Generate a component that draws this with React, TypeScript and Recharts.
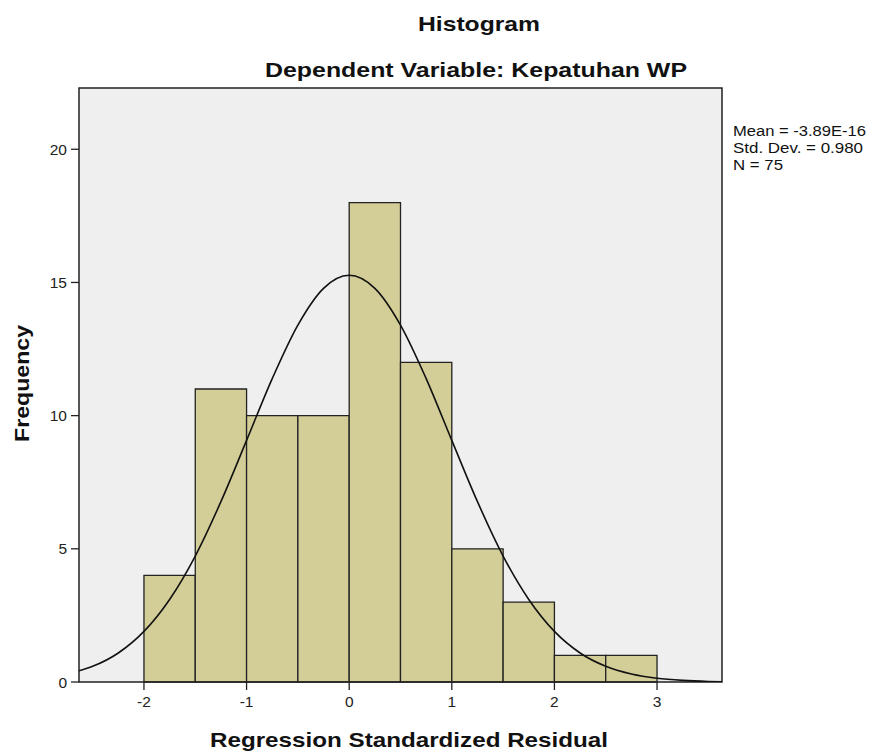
import React from "react";
import { ComposedChart, XAxis, YAxis, Line, ReferenceArea } from "recharts";

const binStarts = [-2, -1.5, -1, -0.5, 0, 0.5, 1, 1.5, 2, 2.5];
const binEnds = [-1.5, -1, -0.5, 0, 0.5, 1, 1.5, 2, 2.5, 3];
const counts = [4, 11, 10, 10, 18, 12, 5, 3, 1, 1];

const curveX = [-2.633, -2.5, -2.25, -2, -1.75, -1.5, -1.25, -1, -0.75, -0.5, -0.25, 0, 0.25, 0.5, 0.75, 1, 1.25, 1.5, 1.75, 2, 2.25, 2.5, 2.75, 3, 3.25, 3.5, 3.633];
const curveY = [0.42, 0.59, 1.09, 1.9, 3.1, 4.73, 6.77, 9.07, 11.39, 13.4, 14.78, 15.27, 14.78, 13.4, 11.39, 9.07, 6.77, 4.73, 3.1, 1.9, 1.09, 0.59, 0.3, 0.14, 0.06, 0.02, 0.01];

const xTicks = [-2, -1, 0, 1, 2, 3];
const yTicks = [0, 5, 10, 15, 20];
const xDomain = [-2.633, 3.633];
const yDomain = [0, 22.3];

const title = "Histogram";
const subtitle = "Dependent Variable: Kepatuhan WP";
const xLabel = "Regression Standardized Residual";
const yLabel = "Frequency";
const statsLines = ["Mean = -3.89E-16", "Std. Dev. = 0.980", "N = 75"];
const statsWidths = [133, 130, 50];

const curveData = curveX.map((x, i) => ({ x, y: curveY[i] }));
const bins = binStarts.map((s, i) => ({ s, e: binEnds[i], c: counts[i] }));

const FONT = "'Liberation Sans', Arial, sans-serif";
const INK = "#222";

export default function App() {
  return (
    <div style={{ position: "absolute", left: 0, top: 0, width: 871, height: 756, background: "#fff" }}>
      <ComposedChart width={871} height={756} data={curveData} margin={{ top: 88, right: 149, bottom: 44, left: 19 }}>
        <XAxis
          dataKey="x"
          type="number"
          domain={xDomain}
          ticks={xTicks}
          allowDataOverflow
          axisLine={false}
          tickLine={{ stroke: INK, strokeWidth: 1.3 }}
          tickSize={8}
          tickMargin={6}
          height={30}
          tick={{ fill: INK, fontSize: 15.5, fontFamily: FONT }}
        />
        <YAxis
          type="number"
          domain={yDomain}
          ticks={yTicks}
          allowDataOverflow
          axisLine={false}
          tickLine={{ stroke: INK, strokeWidth: 1.3 }}
          tickSize={8}
          tickMargin={4}
          width={60}
          tick={{ fill: INK, fontSize: 15.5, fontFamily: FONT }}
        />
        <ReferenceArea x1={xDomain[0]} x2={xDomain[1]} y1={yDomain[0]} y2={yDomain[1]} fill="#efefef" fillOpacity={1} stroke="none" ifOverflow="visible" />
        {bins.map((b, i) => (
          <ReferenceArea
            key={i}
            x1={b.s}
            x2={b.e}
            y1={0}
            y2={b.c}
            fill="#d3ce97"
            fillOpacity={1}
            stroke={INK}
            strokeWidth={1.3}
            ifOverflow="visible"
          />
        ))}
        <Line dataKey="y" type="monotone" stroke="#111" strokeWidth={1.6} dot={false} activeDot={false} isAnimationActive={false} />
        <ReferenceArea x1={xDomain[0]} x2={xDomain[1]} y1={yDomain[0]} y2={yDomain[1]} fill="none" stroke={INK} strokeWidth={1.5} ifOverflow="visible" />
      </ComposedChart>
      <svg width={871} height={756} style={{ position: "absolute", left: 0, top: 0, pointerEvents: "none" }}>
        <text x={479} y={30.5} textAnchor="middle" fontFamily={FONT} fontWeight="bold" fontSize={21} fill="#111" textLength={122} lengthAdjust="spacingAndGlyphs">{title}</text>
        <text x={476} y={77} textAnchor="middle" fontFamily={FONT} fontWeight="bold" fontSize={21} fill="#111" textLength={422} lengthAdjust="spacingAndGlyphs">{subtitle}</text>
        <text x={409} y={747} textAnchor="middle" fontFamily={FONT} fontWeight="bold" fontSize={21} fill="#111" textLength={398} lengthAdjust="spacingAndGlyphs">{xLabel}</text>
        <text x={29} y={383.5} textAnchor="middle" transform="rotate(-90 29 383.5)" fontFamily={FONT} fontWeight="bold" fontSize={21} fill="#111" textLength={117} lengthAdjust="spacingAndGlyphs">{yLabel}</text>
        {statsLines.map((s, i) => (
          <text key={i} x={733} y={136 + i * 17} fontFamily={FONT} fontSize={15.5} fill="#111" textLength={statsWidths[i]} lengthAdjust="spacingAndGlyphs">{s}</text>
        ))}
      </svg>
    </div>
  );
}
